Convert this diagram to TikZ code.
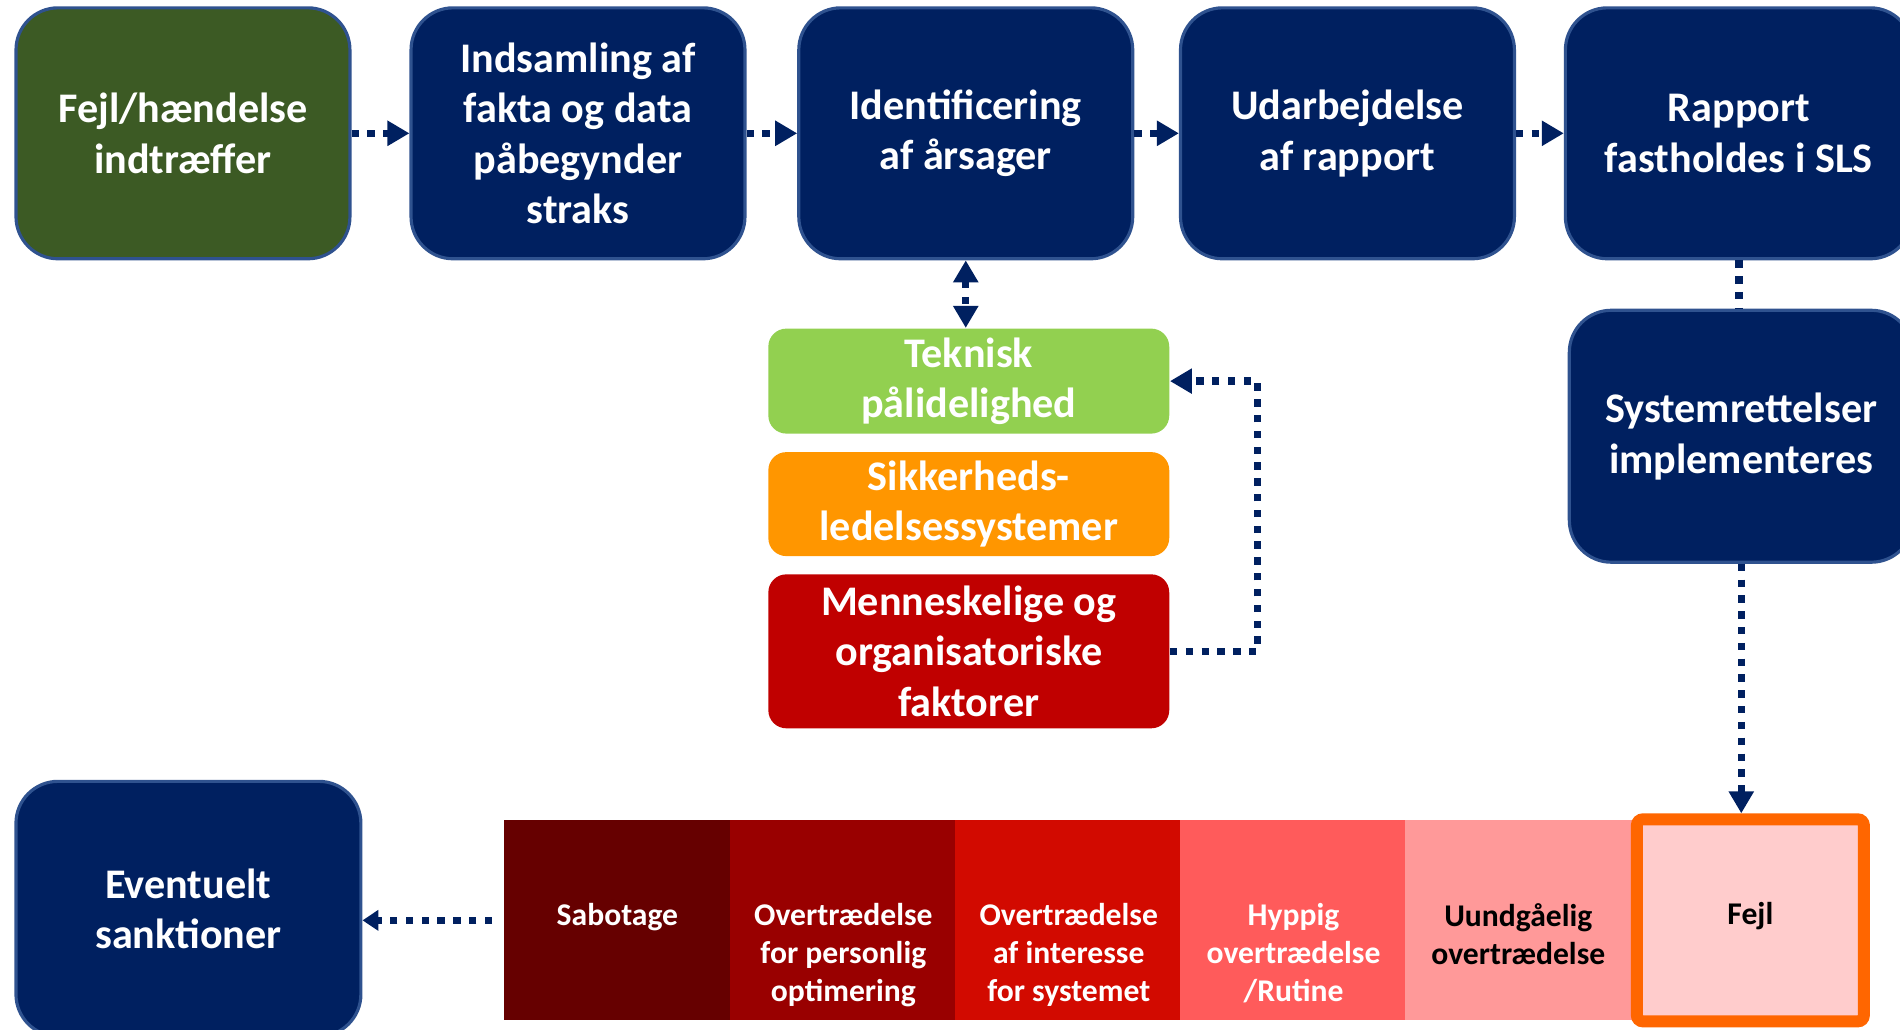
\documentclass[tikz,border=0pt]{standalone}
\usepackage{fontspec}
\setmainfont{Carlito}
\usetikzlibrary{arrows.meta}
\definecolor{navy}{HTML}{002060}
\definecolor{boxline}{HTML}{2F528F}
\definecolor{eventgreen}{HTML}{3C5A24}
\definecolor{tekgreen}{HTML}{92D050}
\definecolor{sikorange}{HTML}{FF9600}
\definecolor{menred}{HTML}{C00000}
\definecolor{sabred}{HTML}{660000}
\definecolor{perred}{HTML}{990000}
\definecolor{sysred}{HTML}{D20A00}
\definecolor{hypred}{HTML}{FF5B5B}
\definecolor{uundred}{HTML}{FF9999}
\definecolor{fejlpink}{HTML}{FFCCCC}
\definecolor{fejlorange}{HTML}{FF6600}

\tikzset{
  procbox/.style={draw=boxline, line width=0.9pt, fill=#1, rounded corners=4.2mm,
    minimum width=33.4mm, minimum height=25.1mm, inner sep=0pt, text=white,
    align=center, font=\bfseries\fontsize{12}{14.4}\selectfont},
  procbox/.default=navy,
  causebox/.style={fill=#1, rounded corners=1.8mm, minimum width=40.1mm,
    inner sep=0pt, text=white, align=center,
    font=\bfseries\fontsize{12}{14.4}\selectfont},
  scalecell/.style={fill=#1, minimum width=22.7mm, minimum height=20mm, inner sep=0pt},
  celltext/.style={anchor=north, yshift=-8.3mm, align=center, inner sep=0pt,
    font=\bfseries\fontsize{9}{10.8}\selectfont},
  dotline/.style={draw=navy, line width=2.1pt, dash pattern=on 2.1pt off 2.4pt},
  flowtip/.style={-{Triangle[width=2.4mm,length=2.2mm]}},
  smalltip/.style={-{Triangle[width=2mm,length=1.6mm]}},
  bothtips/.style={{Triangle[width=2.4mm,length=2.2mm]}-{Triangle[width=2.4mm,length=2.2mm]}},
}

\begin{document}
\begin{tikzpicture}[x=0.1212mm, y=-0.1212mm]
  \useasboundingbox (0,0) rectangle (1568,850);

  % top row
  \node [procbox=eventgreen] (fejlh) at (151,110) {Fejl/hændelse\\indtræffer};
  \node [procbox] (indsaml) at (477,110) {Indsamling af\\fakta og data\\påbegynder\\straks};
  \node [procbox] (ident) at (797,110) {Identificering\\af årsager};
  \node [procbox] (udarb) at (1112,110) {Udarbejdelse\\af rapport};
  \node [procbox, minimum width=34.7mm] (rapport) at (1435,110) {Rapport\\fastholdes i SLS};
  \node [procbox, minimum width=34.4mm, minimum height=25.2mm] (system) at (1437,360) {Systemrettelser\\implementeres};

  % causes
  \node [causebox=tekgreen, minimum height=10.5mm] (teknisk) at (799.5,314.5) {Teknisk\\pålidelighed};
  \node [causebox=sikorange, minimum height=10.4mm] (sikker) at (799.5,416) {Sikkerheds-\\ledelsessystemer};
  \node [causebox=menred, minimum height=15.4mm] (menn) at (799.5,537.5) {Menneskelige og\\organisatoriske\\faktorer};

  % bottom
  \node [procbox, minimum width=34.5mm, minimum height=25.5mm] (eventuelt) at (155.5,750) {Eventuelt\\sanktioner};

  \node [scalecell=sabred, label={[celltext, text=white]north:Sabotage}] (sabotage) at (509.5,759.5) {};
  \node [scalecell=perred, label={[celltext, text=white]north:Overtrædelse\\for personlig\\optimering}] (personlig) at (696,759.5) {};
  \node [scalecell=sysred, label={[celltext, text=white]north:Overtrædelse\\af interesse\\for systemet}] (interesse) at (882,759.5) {};
  \node [scalecell=hypred, label={[celltext, text=white]north:Hyppig\\overtrædelse\\/Rutine}] (hyppig) at (1067.5,759.5) {};
  \node [scalecell=uundred, label={[celltext, text=black]north:Uundgåelig\\overtrædelse}] (uundgaa) at (1253,759.5) {};
  \node [scalecell=fejlpink, draw=fejlorange, line width=1.2mm, rounded corners=0.6mm,
    minimum height=20.2mm, label={[celltext, text=black, yshift=-0.5mm]north:Fejl}] (fejlcell) at (1444.5,759.5) {};

  % connectors
  \draw [dotline, flowtip] (fejlh.east) -- (indsaml.west);
  \draw [dotline, flowtip] (indsaml.east) -- (ident.west);
  \draw [dotline, flowtip] (ident.east) -- (udarb.west);
  \draw [dotline, flowtip] (udarb.east) -- (rapport.west);
  \draw [dotline, bothtips] (ident.south) -- (ident.south |- teknisk.north);
  \draw [dotline, flowtip] (menn.east) -- ++(72,0) |- (teknisk.east);
  \draw [dotline] (rapport.south) -- (rapport.south |- system.north);
  \draw [dotline, flowtip] (system.south) -- (system.south |- fejlcell.north);
  \draw [dotline, smalltip] ([xshift=-1.1mm]sabotage.west) -- (sabotage.west -| eventuelt.east);
\end{tikzpicture}
\end{document}
